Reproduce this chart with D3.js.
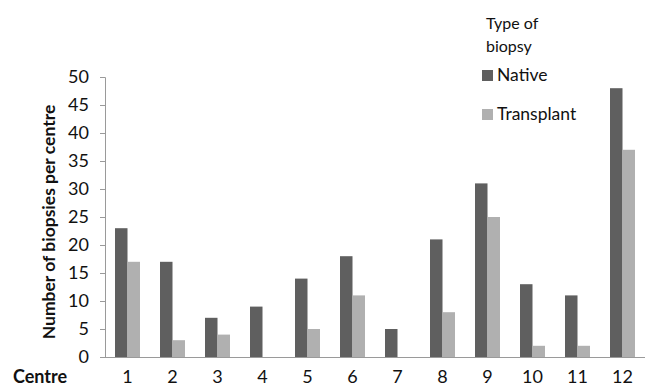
<!DOCTYPE html>
<html><head><meta charset="utf-8">
<script src="https://cdn.jsdelivr.net/npm/d3@7"></script>
<style>body{margin:0;background:#fff}svg{display:block}text{font-family:Lato,"Open Sans",sans-serif}</style>
</head><body><svg id="c" width="650" height="388"></svg>
<script>
const centres = ["1","2","3","4","5","6","7","8","9","10","11","12"];
const nativeVals = [23,17,7,9,14,18,5,21,31,13,11,48];
const transplantVals = [17,3,4,0,5,11,0,8,25,2,2,37];
const yTicks = [0,5,10,15,20,25,30,35,40,45,50];
const seriesNames = ["Native","Transplant"];
const colors = ["#5f5f5f","#b0b0b0"];

const svg = d3.select("#c");
const pLeft = 105, pRight = 645, pTop = 77, pBottom = 357;
const x = d3.scaleBand().domain(centres).range([pLeft, pRight]).paddingInner(0).paddingOuter(0);
const y = d3.scaleLinear().domain([0,50]).range([pBottom, pTop]);
const sub = d3.scaleBand().domain(seriesNames).range([0, x.bandwidth()]).paddingInner(0).paddingOuter(0.8);

const data = centres.map((c,i)=>({c, vals:[nativeVals[i], transplantVals[i]]}));
const g = svg.append("g");
g.selectAll("g.grp").data(data).join("g").attr("class","grp")
  .attr("transform", d=>`translate(${x(d.c)},0)`)
  .selectAll("rect").data(d=>d.vals.map((v,k)=>({k,v}))).join("rect")
  .attr("x", d=>sub(seriesNames[d.k]))
  .attr("width", sub.bandwidth())
  .attr("y", d=>y(d.v))
  .attr("height", d=>pBottom - y(d.v))
  .attr("fill", d=>colors[d.k]);

// y axis
const ya = svg.append("g").attr("transform",`translate(${pLeft},0)`)
  .call(d3.axisLeft(y).tickValues(yTicks).tickSize(5).tickPadding(11));
ya.select(".domain").attr("stroke","#9a9a9a");
ya.selectAll(".tick line").attr("stroke","#9a9a9a");
ya.selectAll("text").attr("font-size",18).attr("fill","#111").attr("font-family","Lato,'Open Sans',sans-serif");

// x axis
const xa = svg.append("g").attr("transform",`translate(0,${pBottom})`)
  .call(d3.axisBottom(x).tickSize(0).tickPadding(13));
xa.select(".domain").attr("stroke","#9a9a9a").attr("d",`M${pLeft},0.5H${pRight}`);
xa.selectAll("text").attr("font-size",18).attr("fill","#111").attr("font-family","Lato,'Open Sans',sans-serif");

svg.append("text").attr("x",13).attr("y",383).attr("font-size",18).attr("font-weight","bold").attr("fill","#111").text("Centre");
svg.append("text").attr("transform",`translate(55,222) rotate(-90)`)
  .attr("text-anchor","middle").attr("font-size",17.5).attr("font-weight","bold").attr("fill","#111")
  .text("Number of biopsies per centre");

// legend
const lg = svg.append("g");
lg.append("text").attr("x",486).attr("y",29).attr("font-size",16).attr("fill","#111").text("Type of");
lg.append("text").attr("x",486).attr("y",52).attr("font-size",16).attr("fill","#111").text("biopsy");
const ly = [75, 114];
seriesNames.forEach((n,i)=>{
  lg.append("rect").attr("x",482).attr("y",ly[i]-5).attr("width",11).attr("height",11).attr("fill",colors[i]);
  lg.append("text").attr("x",497).attr("y",ly[i]+6).attr("font-size",17.5).attr("fill","#111").text(n);
});
</script></body></html>
